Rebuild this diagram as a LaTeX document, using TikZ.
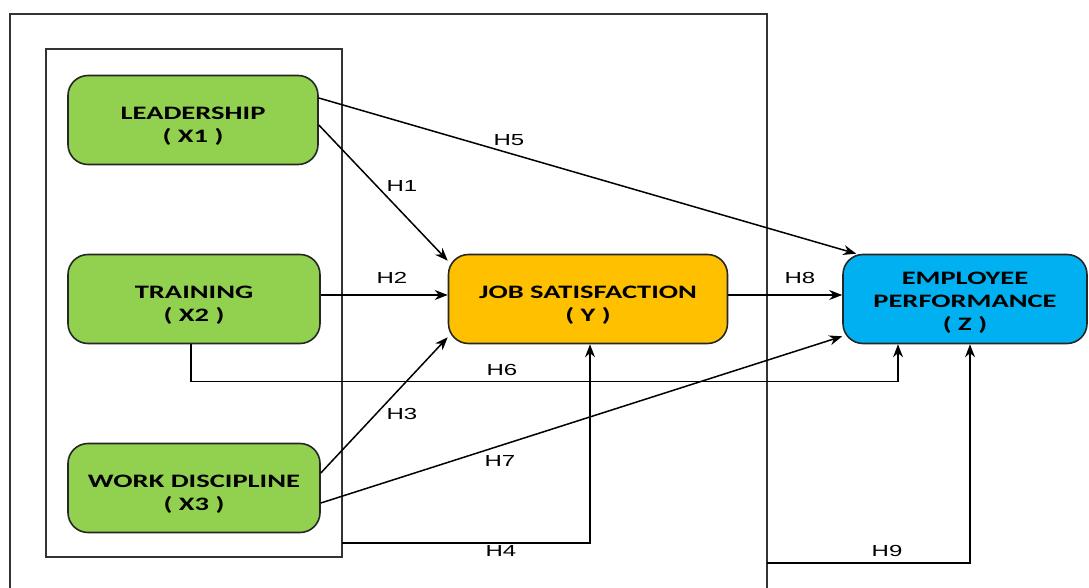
\documentclass[tikz,border=0pt]{standalone}
\usepackage{fontspec}
\setmainfont{Carlito}
\newfontfamily\varfont[FakeStretch=1.5]{Carlito}
\newfontfamily\hypfont[FakeStretch=1.5]{Liberation Sans}
\usetikzlibrary{arrows.meta}

\definecolor{boxgreen}{HTML}{92D050}
\definecolor{boxorange}{HTML}{FFC000}
\definecolor{boxblue}{HTML}{00B0F0}

% pushes the box text a little down
\newcommand{\vlift}[1][25pt]{\rule{0pt}{#1}}

\tikzset{
  var/.style={draw=black!85, line width=1.6pt, rounded corners=20pt,
    minimum height=89pt, align=center,
    font=\varfont\fontsize{19}{23}\selectfont\bfseries},
  link/.style={line width=1.5pt, -{Stealth[length=13pt,width=10pt]}},
  hyp/.style={font=\hypfont\fontsize{16}{18}\selectfont, inner sep=1pt},
  frame/.style={line width=1.4pt, draw=black!80}
}

\begin{document}
\begin{tikzpicture}[x=1pt,y=-1pt]
  \useasboundingbox (0,0) rectangle (1089,588);

  % Frames
  \draw[frame] (10,588) -- (10,14) -- (767,14) -- (767,588);
  \draw[frame] (46,49) rectangle (342,557);

  % Variables
  \node[var, fill=boxgreen, minimum width=250pt]  (x1) at (193,120) {\vlift LEADERSHIP\\( X1 )};
  \node[var, fill=boxgreen, minimum width=252pt]  (x2) at (194,299) {\vlift TRAINING\\( X2 )};
  \node[var, fill=boxgreen, minimum width=252pt]  (x3) at (194,488) {\vlift WORK DISCIPLINE\\( X3 )};
  \node[var, fill=boxorange, minimum width=279pt] (y)  at (588,299) {\vlift JOB SATISFACTION\\( Y )};
  \node[var, fill=boxblue, minimum width=244pt]   (z)  at (965,299) {\vlift[19pt]EMPLOYEE\\PERFORMANCE\\( Z )};

  \coordinate (h4start) at (342,543);
  \coordinate (h9start) at (767,563);

  % Hypotheses
  \draw[link] ([yshift=22pt]x1.east) -- ([xshift=14pt]z.north west);
  \draw[link] ([yshift=-5pt]x1.east) -- ([yshift=-7pt]y.north west);
  \draw[link] ([yshift=4pt]x2.east) -- ([yshift=4pt]y.west);
  \draw[link] ([xshift=-3pt]x2.south) -- ++(0,37) -| ([xshift=-67pt]z.south);
  \draw[link] ([yshift=15pt]x3.east) -- ([yshift=7pt]y.south west);
  \draw[link] ([yshift=-15pt]x3.east) -- ([yshift=8pt]z.south west);
  \draw[link] (h4start) -| ([xshift=2pt]y.south);
  \draw[link] ([yshift=4pt]y.east) -- ([yshift=4pt]z.west);
  \draw[link] (h9start) -| ([xshift=5pt]z.south);

  % Labels
  \node[hyp] (lab1) at (402,186) {H1};
  \node[hyp] (lab2) at (392,278) {H2};
  \node[hyp] (lab3) at (402,414) {H3};
  \node[hyp] (lab4) at (501,551) {H4};
  \node[hyp] (lab5) at (509,140) {H5};
  \node[hyp] (lab6) at (502,370) {H6};
  \node[hyp] (lab7) at (500,461) {H7};
  \node[hyp] (lab8) at (800,278) {H8};
  \node[hyp] (lab9) at (887,551) {H9};
\end{tikzpicture}
\end{document}
